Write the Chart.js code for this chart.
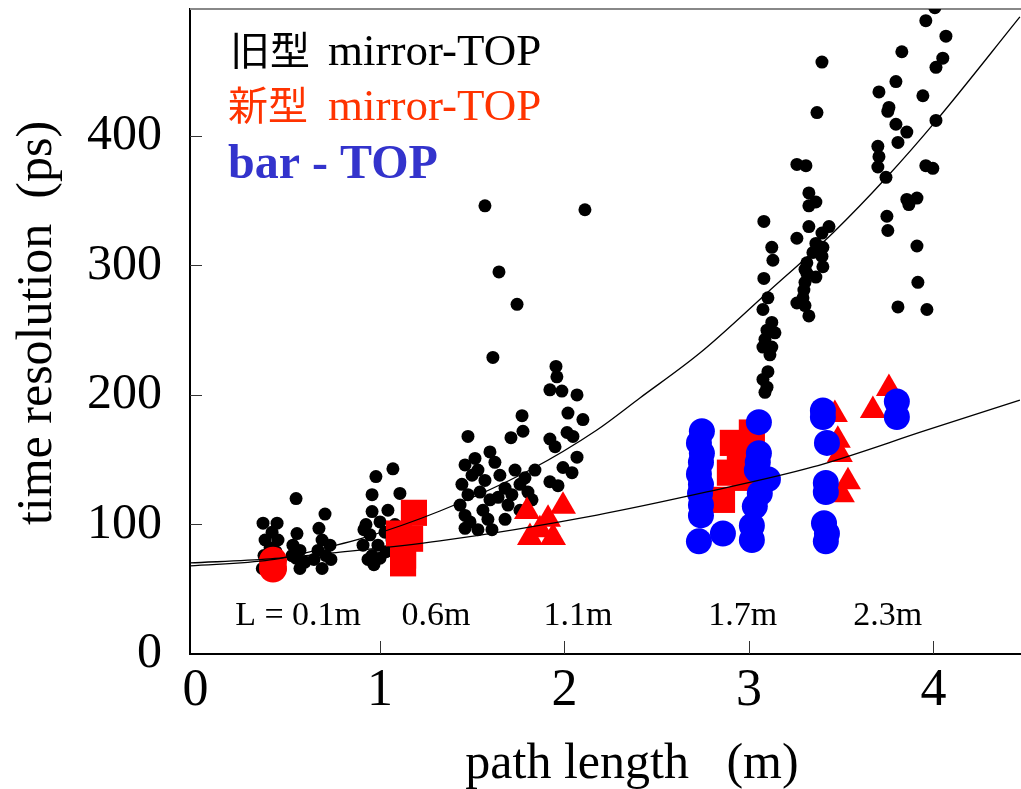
<!DOCTYPE html>
<html>
<head>
<meta charset="utf-8">
<script src="https://cdn.jsdelivr.net/npm/chart.js@4.4.1/dist/chart.umd.min.js"></script>
<style>
html, body { margin: 0; padding: 0; background: #fff; }
#wrap { width: 1021px; height: 789px; }
</style>
</head>
<body>
<div id="wrap"><canvas id="chart"></canvas></div>
<script>
// 旧型 mirror-TOP (black dots): path length (m) / time resolution (ps)
const oldX = [
  0.366, 0.442, 0.377, 0.447, 0.371, 0.436, 0.393, 0.362, 0.458, 0.404, 0.415,
  0.545, 0.550, 0.528, 0.566, 0.545, 0.593, 0.566, 0.523,
  0.702, 0.669, 0.686, 0.729, 0.664, 0.707, 0.642, 0.734, 0.686,
  0.978, 1.070, 0.957, 1.108, 0.957, 1.043, 0.924, 1.000, 0.946, 1.027, 0.908, 0.989, 1.065, 0.957, 1.033, 0.967, 0.935, 1.000, 1.081, 0.913,
  1.569, 2.111, 1.645, 1.743, 1.612, 1.954, 1.959, 1.921, 1.986, 2.068, 2.019, 2.100, 1.770, 1.775, 1.477, 1.710, 1.921, 2.014, 2.046, 1.949, 2.068, 1.515, 1.596, 1.992, 2.041, 1.921, 1.965,
  1.461, 1.499, 1.444, 1.477, 1.434, 1.461, 1.488, 1.531, 1.569, 1.542, 1.596, 1.558, 1.585, 1.623, 1.650, 1.678, 1.640, 1.694, 1.732, 1.759, 1.715, 1.786, 1.802, 1.759, 1.824, 1.840, 1.678, 1.607, 1.531, 1.461,
  3.396, 3.369, 3.260, 3.309, 3.325, 3.363, 3.325, 3.325, 3.434, 3.081, 3.260, 3.363, 3.401, 3.396, 3.401, 3.363, 3.304, 3.314, 3.304, 3.298, 3.293, 3.260, 3.304, 3.325, 3.347, 3.314, 3.396,
  3.124, 3.130, 3.081, 3.103, 3.076, 3.124, 3.098, 3.141, 3.087, 3.124, 3.076, 3.114, 3.103, 3.076, 3.098, 3.087,
  4.008, 3.959, 4.068, 3.829, 4.051, 4.014, 3.797, 3.705, 3.943, 3.759, 3.753, 4.014, 3.797, 3.856, 3.699, 3.808, 3.705, 3.699, 3.743, 3.959, 3.997, 3.911, 3.856, 3.867, 3.748, 3.753, 3.911, 3.916, 3.808, 3.965
];
const oldY = [
  101, 101, 88, 88, 76, 79, 69, 66, 65, 82, 94,
  120, 93, 84, 80, 74, 71, 66, 76,
  108, 97, 88, 84, 80, 76, 73, 73, 66,
  137, 143, 123, 124, 110, 111, 100, 102, 92, 94, 84, 84, 88, 76, 79, 69, 73, 74, 100, 96,
  346, 343, 295, 270, 229, 222, 214, 204, 203, 200, 186, 181, 184, 172, 168, 167, 166, 171, 168, 160, 152, 151, 156, 144, 140, 133, 130,
  146, 138, 131, 123, 115, 107, 102, 142, 134, 125, 119, 111, 104, 148, 138, 128, 121, 115, 142, 131, 123, 136, 125, 111, 119, 142, 104, 96, 96, 97,
  457, 418, 378, 377, 356, 349, 346, 330, 330, 334, 321, 317, 314, 307, 299, 291, 297, 294, 287, 281, 275, 271, 269, 261, 310, 302, 325,
  314, 304, 290, 275, 266, 256, 250, 248, 243, 237, 237, 231, 218, 212, 206, 202,
  499, 489, 477, 465, 460, 453, 442, 434, 431, 422, 419, 412, 409, 403, 392, 395, 384, 376, 368, 377, 375, 352, 351, 347, 338, 327, 315, 287, 268, 266
];

// 新型 mirror-TOP (red): one series, drawn with three marker kinds
const newCircleX = [0.42, 0.42];
const newCircleY = [72, 66];
const newSquareX = [1.184, 1.103, 1.163, 1.125, 1.125, 2.913, 3.016, 2.897, 2.978, 2.854, 2.951];
const newSquareY = [109, 93, 89, 76, 70, 163, 171, 140, 136, 119, 154];
const newTriangleX = [1.797, 1.813, 1.911, 1.938, 1.992, 1.867, 3.466, 3.482, 3.493, 3.537, 3.504, 3.672, 3.759];
const newTriangleY = [110, 90, 104, 90, 114, 96, 185, 165, 154, 133, 123, 188, 205];

// bar - TOP (blue)
const barX = [
  2.745, 2.729, 2.745, 2.740, 2.729, 2.740, 2.735, 2.740, 2.740, 2.729, 2.859,
  3.054, 3.054, 3.043, 3.103, 3.059, 3.032, 3.016, 3.016, 3.048,
  3.401, 3.401, 3.423, 3.417, 3.417, 3.407, 3.423, 3.417,
  3.802, 3.802
];
const barY = [
  172, 163, 155, 148, 139, 131, 124, 115, 107, 87, 93,
  179, 155, 142, 135, 124, 114, 99, 88, 148,
  188, 183, 163, 132, 125, 101, 93, 87,
  195, 183
];

// fit curves
const fitOldX = [-0.03, 0.404, 0.745, 0.892, 1.325, 1.813, 2.176, 2.409, 2.734, 3.098, 3.455, 3.748, 4.019, 4.469];
const fitOldY = [68, 72.6, 83.4, 88.8, 110.4, 142.1, 173, 197.7, 232.4, 278.8, 325.1, 368.3, 412.4, 491.9];
const fitBarX = [-0.03, 0.404, 0.745, 1.325, 2.176, 2.772, 3.347, 3.967, 4.469];
const fitBarY = [70.3, 73.4, 78, 87.3, 107.3, 125.1, 144.4, 173, 196.1];

const xTicks = [0, 1, 2, 3, 4];
const yTicks = [0, 100, 200, 300, 400];

// radiator lengths written along the bottom
const lengthLabels = ['L = 0.1m', '0.6m', '1.1m', '1.7m', '2.3m'];
const lengthLabelAt = [0.556, 1.304, 2.073, 2.967, 3.753];

const SERIF = "'Liberation Serif', 'Times New Roman', serif";
const CJK = "'Noto Sans CJK JP', 'Noto Sans CJK SC', sans-serif";

function pts(xs, ys) {
  return xs.map((x, i) => ({ x: x, y: ys[i] }));
}

const decor = {
  id: 'decor',
  beforeDatasetsDraw(chart) {
    const ctx = chart.ctx;
    const a = chart.chartArea;
    const sx = chart.scales.x, sy = chart.scales.y;
    ctx.save();
    ctx.strokeStyle = '#333';
    ctx.lineWidth = 1;
    // inward tick marks
    yTicks.forEach(v => {
      if (v === 0) return;
      const y = Math.round(sy.getPixelForValue(v)) + 0.5;
      ctx.beginPath(); ctx.moveTo(a.left, y); ctx.lineTo(a.left + 12, y); ctx.stroke();
    });
    xTicks.forEach(v => {
      if (v === 0) return;
      const x = Math.round(sx.getPixelForValue(v)) + 0.5;
      ctx.beginPath(); ctx.moveTo(x, a.bottom); ctx.lineTo(x, a.bottom - 13); ctx.stroke();
    });
    // top frame line
    ctx.strokeStyle = '#888';
    ctx.lineWidth = 2;
    ctx.beginPath(); ctx.moveTo(a.left, a.top); ctx.lineTo(a.right, a.top); ctx.stroke();
    ctx.restore();
  },
  afterDraw(chart) {
    const ctx = chart.ctx;
    const a = chart.chartArea;
    const sx = chart.scales.x;
    ctx.save();
    ctx.textBaseline = 'alphabetic';
    ctx.textAlign = 'left';

    // legend text
    ctx.fillStyle = '#000';
    ctx.font = '40px ' + CJK;
    ctx.fillText('旧型', a.left + 40, a.top + 56);
    ctx.font = '45px ' + SERIF;
    ctx.fillText('mirror-TOP', a.left + 138, a.top + 56);

    ctx.fillStyle = '#ff3300';
    ctx.font = '40px ' + CJK;
    ctx.fillText('新型', a.left + 38, a.top + 111);
    ctx.font = '45px ' + SERIF;
    ctx.fillText('mirror-TOP', a.left + 138, a.top + 111);

    ctx.fillStyle = '#3333cc';
    ctx.font = 'bold 48px ' + SERIF;
    ctx.fillText('bar - TOP', a.left + 38, a.top + 169);

    // length labels
    ctx.fillStyle = '#000';
    ctx.font = '34px ' + SERIF;
    ctx.textAlign = 'center';
    lengthLabels.forEach((t, i) => {
      ctx.fillText(t, sx.getPixelForValue(lengthLabelAt[i]), a.bottom - 29);
    });

    // axis titles
    ctx.font = '50px ' + SERIF;
    ctx.fillText('path length   (m)', 632, chart.height - 11);
    ctx.translate(38, 323);
    ctx.rotate(-Math.PI / 2);
    ctx.textBaseline = 'middle';
    ctx.fillText('time resolution  (ps)', 0, 0);
    ctx.restore();
  }
};

new Chart(document.getElementById('chart'), {
  type: 'scatter',
  data: {
    datasets: [
      { label: 'fit old', data: pts(fitOldX, fitOldY), showLine: true, pointRadius: 0,
        borderColor: '#000', borderWidth: 1.3, cubicInterpolationMode: 'monotone' },
      { label: 'fit bar', data: pts(fitBarX, fitBarY), showLine: true, pointRadius: 0,
        borderColor: '#000', borderWidth: 1.3, cubicInterpolationMode: 'monotone' },
      { label: 'bar - TOP', data: pts(barX, barY), pointStyle: 'circle', pointRadius: 13,
        backgroundColor: '#0000ff', borderWidth: 0 },
      { label: '新型 mirror-TOP', data: pts(newCircleX, newCircleY), pointStyle: 'circle', pointRadius: 14,
        backgroundColor: '#ff0000', borderWidth: 0 },
      { label: '新型 mirror-TOP', data: pts(newSquareX, newSquareY), pointStyle: 'rect', pointRadius: 18.5,
        backgroundColor: '#ff0000', borderWidth: 0 },
      { label: '新型 mirror-TOP', data: pts(newTriangleX, newTriangleY), pointStyle: 'triangle', pointRadius: 15,
        backgroundColor: '#ff0000', borderWidth: 0 },
      { label: '旧型 mirror-TOP', data: pts(oldX, oldY), pointStyle: 'circle', pointRadius: 6.5,
        backgroundColor: '#000', borderWidth: 0 }
    ]
  },
  options: {
    responsive: true,
    maintainAspectRatio: false,
    animation: false,
    layout: { autoPadding: false, padding: { top: 9, left: 0, right: 0, bottom: 0 } },
    plugins: {
      legend: { display: false },
      tooltip: { enabled: false }
    },
    scales: {
      x: {
        type: 'linear',
        min: -0.03,
        max: 4.475,
        afterBuildTicks: s => { s.ticks = xTicks.map(v => ({ value: v })); },
        afterFit: s => { s.height = 135; s.paddingLeft = 0; s.paddingRight = 0; },
        grid: { display: false, drawTicks: false },
        border: { display: true, color: '#000', width: 2 },
        ticks: { color: '#000', padding: 6, maxRotation: 0, font: { family: SERIF, size: 52 } }
      },
      y: {
        min: 0,
        max: 498,
        afterBuildTicks: s => { s.ticks = yTicks.map(v => ({ value: v })); },
        afterFit: s => { s.width = 190; s.paddingTop = 0; s.paddingBottom = 0; },
        grid: { display: false, drawTicks: false },
        border: { display: true, color: '#000', width: 2 },
        ticks: { color: '#000', padding: 28, font: { family: SERIF, size: 50 } }
      }
    }
  },
  plugins: [decor]
});
</script>
</body>
</html>
